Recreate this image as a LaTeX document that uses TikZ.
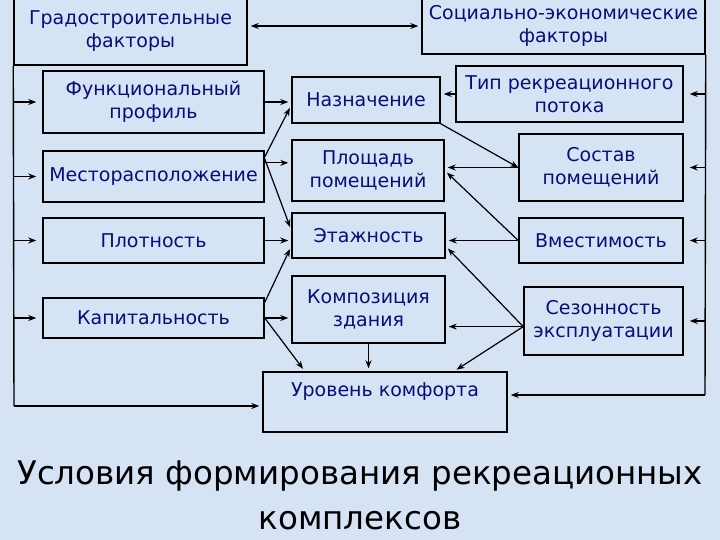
\documentclass[tikz,border=0pt]{standalone}
\usepackage{fontspec}
\setmainfont{DejaVu Sans}
\usetikzlibrary{arrows.meta, positioning}
\definecolor{bgblue}{RGB}{214,227,245}
\definecolor{txtnavy}{RGB}{12,12,120}

\begin{document}
\begin{tikzpicture}[
    x=1pt, y=-1pt,
    >={Stealth[length=8pt, width=6pt]},
    box/.style={draw, line width=1.5pt, align=center, inner sep=2pt, text=txtnavy, font=\fontsize{19}{23}\selectfont},
    arr/.style={->, line width=1.2pt, shorten >=3pt},
    bus/.style={line width=1.4pt}
  ]
  \fill[bgblue] (0,0) rectangle (720,540);
  \useasboundingbox (0,0) rectangle (720,540);

  % factor groups
  \node[box, minimum width=233pt, minimum height=67pt] (grad) at (130.5,31.5) {Градостроительные\\факторы};
  \node[box, minimum width=283pt, minimum height=56pt] (soc)  at (563.5,26)   {Социально-экономические\\факторы};

  % left column
  \node[box, minimum width=221pt, minimum height=62pt] (func) at (153.5,102)   {Функциональный\\профиль};
  \node[box, minimum width=221pt, minimum height=51pt] (mest) at (153.5,176.5) {Месторасположение};
  \node[box, minimum width=221pt, minimum height=45pt] (plot) at (153.5,240.5) {Плотность};
  \node[box, minimum width=221pt, minimum height=40pt] (kap)  at (153.5,318)   {Капитальность};

  % middle column
  \node[box, minimum width=148pt, minimum height=46pt] (naz)   at (366,100)     {Назначение};
  \node[box, minimum width=152pt, minimum height=61pt] (plosh) at (368,170.5)   {Площадь\\помещений};
  \node[box, minimum width=153pt, minimum height=45pt] (etazh) at (368.5,235.5) {Этажность};
  \node[box, minimum width=153pt, minimum height=67pt] (komp)  at (368.5,309.5) {Композиция\\здания};
  \node[box, minimum width=244pt, minimum height=60pt, text depth=24pt] (ur) at (385,402) {Уровень комфорта};

  % right column
  \node[box, minimum width=227pt, minimum height=56pt] (tip)   at (569.5,94)    {Тип рекреационного\\потока};
  \node[box, minimum width=164pt, minimum height=67pt] (sost)  at (601,167.5)   {Состав\\помещений};
  \node[box, minimum width=164pt, minimum height=45pt] (vmest) at (601,240.5)   {Вместимость};
  \node[box, minimum width=159pt, minimum height=68pt] (sez)   at (603.5,321)   {Сезонность\\эксплуатации};

  \node[inner sep=0pt, align=center, font=\fontsize{32.5}{45}\selectfont] (title) at (360,495)
    {Условия формирования рекреационных\\комплексов};

  % buses
  \coordinate (lbot) at (14,406);
  \coordinate (rbot) at (705,395);
  \draw[bus] (grad.south west) -- (lbot);
  \draw[bus] (soc.south east) -- (rbot);
  \draw[arr, line width=1.4pt] (lbot) -- (lbot -| ur.west);
  \draw[arr, line width=1.4pt] (rbot) -- (rbot -| ur.east);
  \foreach \n in {func, mest, plot, kap}
    \draw[arr, shorten >=6pt] (\n.west -| lbot) -- (\n.west);
  \foreach \n in {tip, sost, vmest, sez}
    \draw[arr, shorten >=6pt] (\n.east -| rbot) -- (\n.east);
  \draw[arr, <->, shorten <=3pt] (grad.east |- soc.west) -- (soc.west);

  % left column to middle
  \draw[arr] (func.east) -- (func.east -| naz.west);
  \draw[arr] (mest.10) -- (naz.184);
  \draw[arr] (mest.7) -- (mest.7 -| plosh.west);
  \draw[arr] (mest.9) -- (etazh.176);
  \draw[arr] (plot.east) -- (plot.east -| etazh.west);
  \draw[arr] (kap.8) -- (etazh.188);
  \draw[arr] (kap.east) -- (kap.east -| komp.west);
  \draw[arr] (kap.east) -- (ur.159);
  \draw[arr] (komp.south) -- (komp.south |- ur.north);

  % right column to middle
  \draw[arr] (tip.west) -- (tip.west -| naz.east);
  \draw[arr, shorten >=0pt] (naz.south east) -- (sost.west);
  \draw[arr] (sost.west) -- (sost.west -| plosh.east);
  \draw[arr] (vmest.west) -- (plosh.east);
  \draw[arr] (vmest.west) -- (vmest.west -| etazh.east);
  \draw[arr] (sez.184) -- (etazh.-8);
  \draw[arr] (sez.184) -- (sez.184 -| komp.east);
  \draw[arr] (sez.184) -- (ur.24);
\end{tikzpicture}
\end{document}
